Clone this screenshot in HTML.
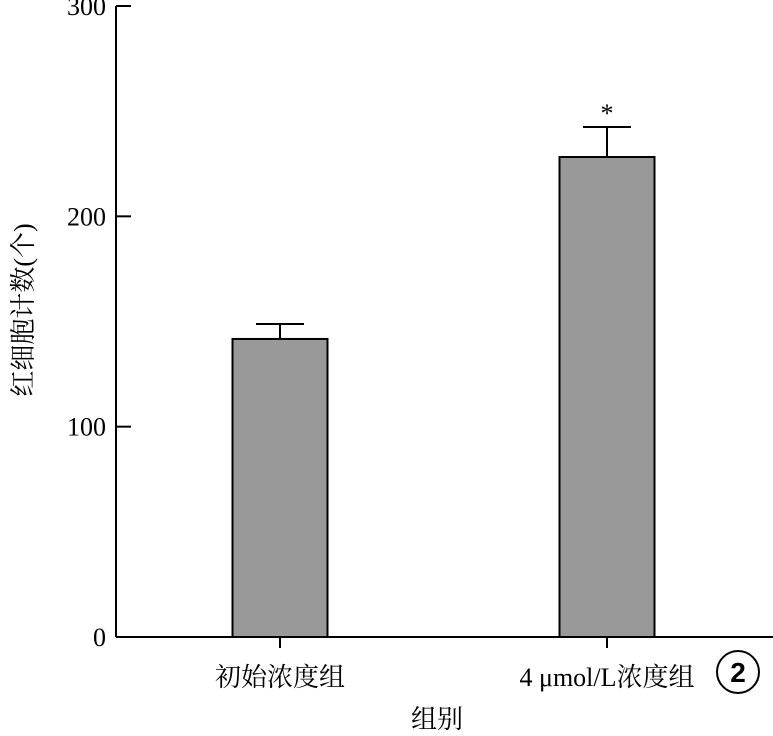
<!DOCTYPE html>
<html><head><meta charset="utf-8"><style>
html,body{margin:0;padding:0;background:#fff;}
svg{display:block;font-family:"Liberation Serif","Noto Serif CJK SC","Noto Sans CJK SC",serif;}
</style></head><body>
<svg id="chart" width="773" height="736" viewBox="0 0 773 736"></svg>
<script>
const categories = ["初始浓度组", "4 μmol/L浓度组"];
const values = [141.7, 228.2];
const errors = [7.1, 14.3];
const sigMarks = ["", "*"];
const yTicks = [0, 100, 200, 300];

const NS = "http://www.w3.org/2000/svg";
const svg = document.getElementById("chart");
const x0 = 116, y0 = 637, yTop = 6, yMax = 300;
const y = v => y0 - (y0 - yTop) * v / yMax;
const xCenter = i => 280 + i * 327;
const barW = 95;
function mk(tag, attrs, parent) {
  const e = document.createElementNS(NS, tag);
  for (const k in attrs) e.setAttribute(k, attrs[k]);
  (parent || svg).appendChild(e);
  return e;
}
// axes
const ya = mk("line", {x1: x0, y1: yTop, x2: x0, y2: y0, stroke: "#000", "stroke-width": 2});


const xa = mk("line", {x1: x0, y1: y0, x2: 773, y2: y0, stroke: "#000", "stroke-width": 2});


yTicks.forEach(t => {
  const tk = mk("line", {x1: x0, y1: y(t), x2: x0 + 15, y2: y(t), stroke: "#000", "stroke-width": 2});
  
  
  const lb = mk("text", {x: 106, y: y(t) + 9, "text-anchor": "end", "font-size": 26});
  lb.textContent = t;
  
  
});
categories.forEach((c, i) => {
  const cx = xCenter(i);
  const bar = mk("rect", {x: cx - barW / 2, y: y(values[i]), width: barW, height: y0 - y(values[i]), fill: "#999", stroke: "#000", "stroke-width": 2});
  
  
  const top = y(values[i] + errors[i]);
  const ev = mk("line", {x1: cx, y1: y(values[i]), x2: cx, y2: top, stroke: "#000", "stroke-width": 2});
  
  
  const ec = mk("line", {x1: cx - 24, y1: top, x2: cx + 24, y2: top, stroke: "#000", "stroke-width": 2});
  
  
  if (sigMarks[i]) {
    const s = mk("text", {x: cx, y: top - 5, "text-anchor": "middle", "font-size": 26});
    s.textContent = sigMarks[i];
    
    
  }
  const xt = mk("line", {x1: cx, y1: y0, x2: cx, y2: y0 + 11, stroke: "#000", "stroke-width": 2});
  
  
  const xl = mk("text", {x: cx, y: y0 + 49, "text-anchor": "middle", "font-size": 26});
  xl.textContent = c;
  
  
});
const xt = mk("text", {x: 437, y: 728, "text-anchor": "middle", "font-size": 26});
xt.textContent = "组别";


const yt = mk("text", {x: 0, y: 0, "text-anchor": "middle", "font-size": 26, transform: "translate(32,310) rotate(-90)"});
yt.textContent = "红细胞计数(个)";


const circ = mk("circle", {cx: 738, cy: 672, r: 21, fill: "none", stroke: "#000", "stroke-width": 2});


const num = mk("text", {x: 738, y: 682, "text-anchor": "middle", "font-size": 28, "font-family": "Liberation Sans, sans-serif", "font-weight": "bold"});
num.textContent = "2";


</script>
</body></html>
